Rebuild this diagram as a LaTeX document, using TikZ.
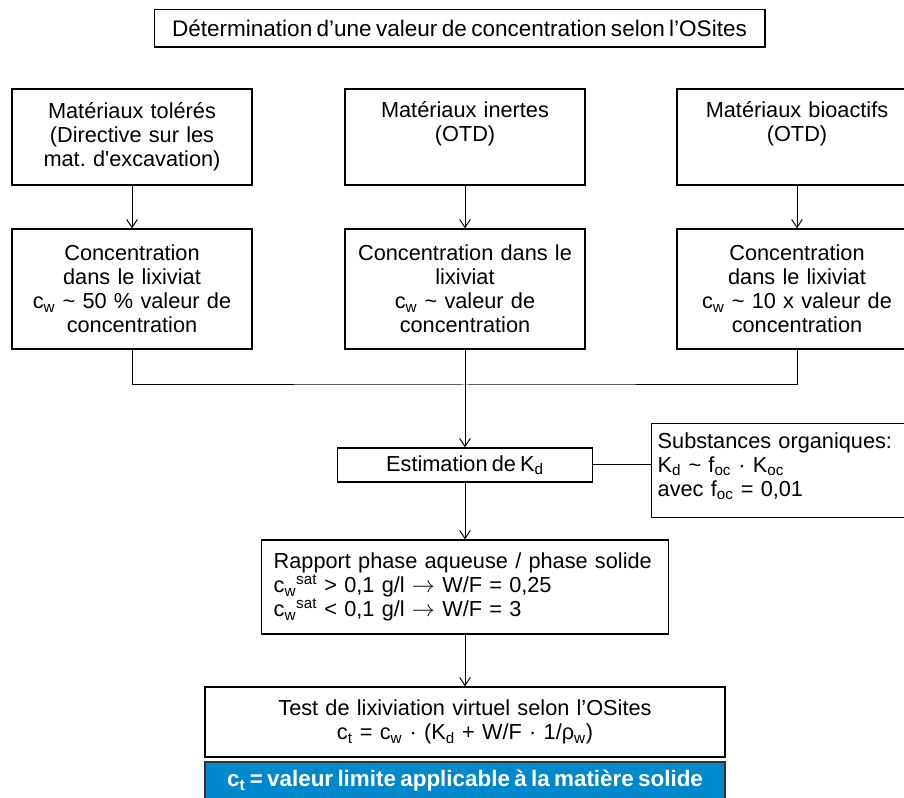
\documentclass[tikz,border=0pt]{standalone}
\usepackage{fontspec}
\setmainfont{Liberation Sans}[WordSpace=0.7]
\usetikzlibrary{arrows.meta}
\definecolor{ositesblue}{HTML}{0088CC}
\frenchspacing

\begin{document}
\begin{tikzpicture}[
    x = 0.75pt, y = -0.75pt,
    font = \fontsize{16.3}{18}\selectfont,
box/.style = {draw, line width=1pt, align=center, inner sep=0pt},
topbox/.style = {box, minimum width=180pt, minimum height=72pt, text width=178pt},
conbox/.style = {box, minimum width=180pt, minimum height=90pt, text width=178pt},
flow/.style = {line width=0.75pt, -{Straight Barb[length=6pt,width=8pt]}},
link/.style = {line width=0.75pt},
                    ]
\useasboundingbox (0,0) rectangle (904,798);
\clip (0,0) rectangle (904,798);
%
\node[box, minimum width=458pt, minimum height=28pt, font=\fontsize{16.9}{18}\selectfont] (titre) at (459.5,28.5)
    {Détermination d’une valeur de concentration selon l’OSites};
%
\node[topbox] (tol) at (132,137) {Matériaux tolérés\\(Directive sur les\\mat. d\textquotesingle excavation)};
\node[topbox] (ine) at (465,137) {Matériaux inertes\\(OTD)\\\strut};
\node[topbox] (bio) at (797,137) {Matériaux bioactifs\\(OTD)\\\strut};
%
\node[conbox] (tolc) at (132,289) {Concentration\\dans le lixiviat\\c\textsubscript{w} \textasciitilde{} 50 \% valeur de\\concentration};
\node[conbox] (inec) at (465,289) {Concentration dans le\\lixiviat\\c\textsubscript{w} \textasciitilde{} valeur de\\concentration};
\node[conbox] (bioc) at (797,289) {Concentration\\dans le lixiviat\\c\textsubscript{w} \textasciitilde{} 10 x valeur de\\concentration};
%
\coordinate (jn) at (465,385);
\node[box, minimum width=191pt, minimum height=25.5pt] (est) at (465,465) {Estimation de K\textsubscript{d}};
\node[box, anchor=north west, minimum width=195pt, minimum height=70.5pt, text width=186pt,
      align=left, inner xsep=3pt] (org) at (651,423)
    {Substances organiques:\\K\textsubscript{d} \textasciitilde{} f\textsubscript{oc} · K\textsubscript{oc}\\avec f\textsubscript{oc} = 0,01\par\kern7pt};
%
\node[box, minimum width=305pt, minimum height=70.5pt, text width=287pt, align=left] (rap) at (465,587)
    {Rapport phase aqueuse / phase solide\\
     c\textsubscript{w}\textsuperscript{sat} > 0,1 g/l $\rightarrow$ W/F = 0,25\\
     c\textsubscript{w}\textsuperscript{sat} < 0,1 g/l $\rightarrow$ W/F = 3};
\node[box, minimum width=390pt, minimum height=52.5pt, text width=380pt] (vir) at (465,722)
    {Test de lixiviation virtuel selon l’OSites\\
     c\textsubscript{t} = c\textsubscript{w} · (K\textsubscript{d} + W/F · 1/ρ\textsubscript{w})};
\node[box, draw=black!80, fill=ositesblue, text=white, font=\fontsize{16.8}{18}\selectfont\bfseries,
      minimum width=390pt, minimum height=28.5pt] (lim) at (465,781)
    {c\textsubscript{t} = valeur limite applicable à la matière solide};
%
\draw[flow] (tol) -- (tolc);
\draw[flow] (ine) -- (inec);
\draw[flow] (bio) -- (bioc);
\draw[link] (tolc.south) |- (jn) -| (bioc.south);
\draw[flow] (inec) -- (est);
\draw[link] (est.east) -- (est.east -| org.west);
\draw[flow] (est) -- (rap);
\draw[flow] (rap) -- (vir);
%
\end{tikzpicture}
\end{document}
